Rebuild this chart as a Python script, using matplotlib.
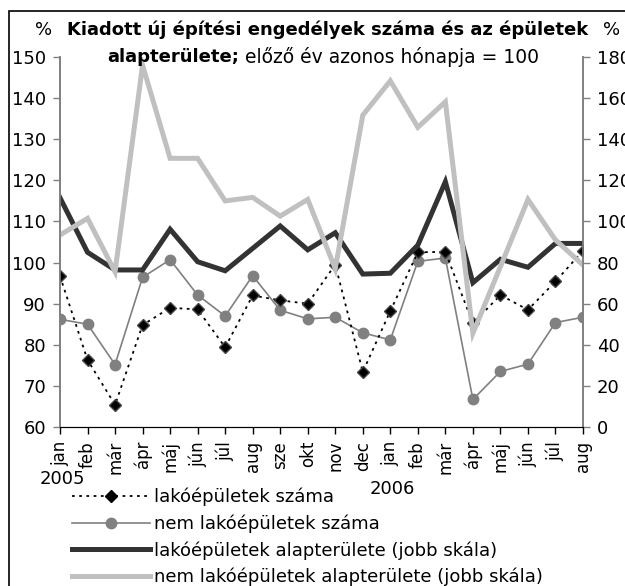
import matplotlib
matplotlib.use('Agg')
import matplotlib.pyplot as plt
from matplotlib.lines import Line2D
from matplotlib.patches import Rectangle

plt.rcParams['font.family'] = ['DejaVu Sans']
plt.rcParams['font.size'] = 13

months = ['jan', 'feb', 'már', 'ápr', 'máj', 'jún', 'júl', 'aug', 'sze', 'okt',
          'nov', 'dec', 'jan', 'feb', 'már', 'ápr', 'máj', 'jún', 'júl', 'aug']

# bal skála
lako_szam = [96.7, 76.3, 65.4, 84.8, 89.0, 88.6, 79.4, 92.0, 90.8, 90.0,
             99.5, 73.4, 88.2, 102.5, 102.6, 85.2, 92.1, 88.5, 95.4, 102.9]
nemlako_szam = [86.2, 85.0, 75.2, 96.4, 100.7, 92.1, 87.0, 96.8, 88.4, 86.3,
                86.7, 82.9, 81.2, 100.3, 101.1, 66.7, 73.5, 75.3, 85.4, 86.7]
# jobb skála
lako_terulet = [111.5, 85.0, 76.4, 76.4, 96.2, 80.4, 76.0, 86.9, 97.8, 86.2,
                94.5, 74.4, 74.8, 88.5, 119.3, 70.2, 81.6, 77.7, 89.3, 89.3]
nemlako_terulet = [93.4, 101.5, 75.5, 176.0, 130.7, 130.7, 110.0, 111.7, 102.6, 110.7,
                   77.0, 151.7, 168.4, 145.8, 158.2, 45.6, 78.0, 110.7, 91.0, 78.8]

labels = ['lakóépületek száma', 'nem lakóépületek száma',
          'lakóépületek alapterülete (jobb skála)',
          'nem lakóépületek alapterülete (jobb skála)']

W, H = 625, 586
fig = plt.figure(figsize=(W / 100, H / 100), dpi=100)
ax = fig.add_axes([60 / W, 1 - 427 / H, (583 - 60) / W, (427 - 57) / H])
ax2 = ax.twinx()

x = list(range(len(months)))
gray = '#808080'

ax.plot(x, nemlako_szam, color=gray, lw=1.2, marker='o', ms=7.5,
        markeredgecolor=gray, zorder=3)
ax.plot(x, lako_szam, color='black', lw=1.3, ls=(0, (1.5, 2.5)), marker='D',
        ms=6, markerfacecolor='black', markeredgecolor='#444444', zorder=4)
ax2.plot(x, lako_terulet, color='#333333', lw=3.6, solid_joinstyle='miter')
ax2.plot(x, nemlako_terulet, color='#c0c0c0', lw=3.6, solid_joinstyle='miter')

ax.set_xlim(0, 19)
ax.set_ylim(60, 150)
ax.set_yticks(range(60, 151, 10))
ax2.set_ylim(0, 180)
ax2.set_yticks(range(0, 181, 20))
ax.set_xticks(x)
ax.set_xticklabels(months, rotation=90, fontsize=12)

for a in (ax, ax2):
    a.spines['top'].set_visible(False)
    a.spines['left'].set_color(gray)
    a.spines['right'].set_color(gray)
    a.spines['bottom'].set_color('black')
    a.spines['left'].set_linewidth(1.2)
    a.spines['right'].set_linewidth(1.2)
ax.tick_params(axis='y', colors='black', length=5, width=1, pad=5, color=gray)
ax2.tick_params(axis='y', colors='black', length=5, width=1, pad=5, color=gray)
ax.tick_params(axis='x', length=5, width=1, pad=5)

# évek
fig.text(62 / W, 1 - 479 / H, '2005', ha='center', va='center')
fig.text(392 / W, 1 - 489 / H, '2006', ha='center', va='center')

# cím
fig.text(44 / W, 1 - 30 / H, '%', ha='center', va='center')
fig.text(612 / W, 1 - 30 / H, '%', ha='center', va='center')
fig.text(328 / W, 1 - 30 / H, 'Kiadott új építési engedélyek száma és az épületek',
         ha='center', va='center', fontweight='bold')
fig.text(107 / W, 1 - 57 / H, 'alapterülete;', ha='left', va='center',
         fontweight='bold')
fig.text(245 / W, 1 - 57 / H, 'előző év azonos hónapja = 100', ha='left',
         va='center', fontsize=13.5)

# jelmagyarázat
handles = [
    Line2D([], [], color='black', lw=1.3, ls=(0, (1.5, 2.5)), marker='D', ms=6,
           markerfacecolor='black'),
    Line2D([], [], color=gray, lw=1.2, marker='o', ms=7.5),
    Line2D([], [], color='#333333', lw=3.6),
    Line2D([], [], color='#c0c0c0', lw=3.6),
]
fig.legend(handles, labels, loc='upper left', bbox_to_anchor=(72 / W, 1 - 488 / H),
           frameon=False, borderpad=0, borderaxespad=0, handlelength=4.3,
           handletextpad=0.25, labelspacing=0.45)

# keret
fig.patches.append(Rectangle((9 / W, -0.1), 1.2, 1.1 - 11 / H, transform=fig.transFigure,
                             fill=False, edgecolor='black', lw=1.2))

fig.savefig('out.png', dpi=100)
